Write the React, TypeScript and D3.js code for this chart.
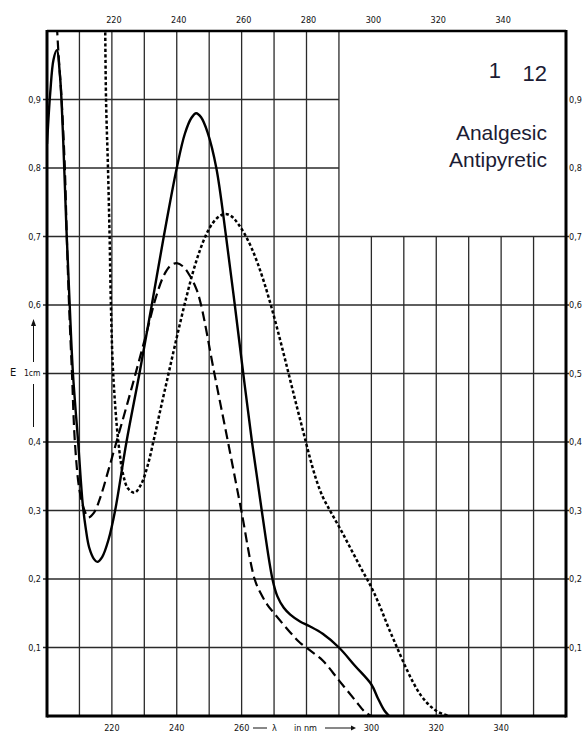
import React from 'react';
import * as d3 from 'd3';

// wavelength (nm), extinction E 1% 1cm
const solidCurve: [number, number][] = [
  [200, 0.835], [201, 0.91], [202, 0.958], [203, 0.972], [204, 0.935], [205, 0.84],
  [206, 0.71], [207, 0.6], [208, 0.5], [209.6, 0.4], [211, 0.31], [212, 0.272],
  [213, 0.246], [214.5, 0.229], [215.5, 0.225], [217, 0.232], [219, 0.258], [221, 0.3],
  [224.5, 0.4], [228.5, 0.5], [232.3, 0.6], [236, 0.7], [240, 0.8], [242.5, 0.85],
  [244.5, 0.873], [246, 0.88], [247.5, 0.874], [249.5, 0.852], [252.2, 0.8], [255.2, 0.7],
  [257.9, 0.6], [260.5, 0.5], [263.2, 0.4], [266.2, 0.3], [269.5, 0.2], [271, 0.175],
  [273, 0.158], [275, 0.148], [278, 0.138], [281, 0.131], [285, 0.12], [290, 0.1],
  [295, 0.073], [300, 0.046], [302, 0.026], [304, 0.008], [305.5, 0.0],
];

const dashedCurve: [number, number][] = [
  [202.8, 1.03], [203.5, 0.97], [204.5, 0.9], [205.5, 0.8], [206.1, 0.7], [206.8, 0.6],
  [207.7, 0.5], [208.6, 0.4], [210, 0.33], [211.5, 0.301], [212.7, 0.29], [214.5, 0.297],
  [216.5, 0.32], [219, 0.36], [222, 0.41], [225, 0.46], [228, 0.512], [231, 0.565],
  [233.5, 0.61], [236, 0.643], [238, 0.657], [240, 0.661], [242, 0.656], [244, 0.643],
  [246, 0.624], [247.5, 0.6], [251.6, 0.5], [255.8, 0.4], [259.9, 0.3], [264, 0.2],
  [266, 0.178], [268, 0.162], [270, 0.15], [275, 0.122], [278, 0.107], [281, 0.096],
  [285, 0.081], [290, 0.052], [295, 0.023], [298, 0.006], [300, 0.0],
];

const dottedCurve: [number, number][] = [
  [217.9, 1.03], [218.2, 0.9], [218.8, 0.8], [219.3, 0.7], [219.7, 0.6], [220.4, 0.5],
  [222, 0.4], [223.5, 0.352], [225, 0.332], [227, 0.326], [229, 0.338], [231, 0.365],
  [233, 0.405], [235, 0.448], [237, 0.49], [239, 0.532], [241, 0.573], [243, 0.612],
  [245, 0.648], [247, 0.678], [249, 0.702], [251, 0.719], [253, 0.729], [255, 0.733],
  [257, 0.729], [259, 0.718], [261, 0.703], [263, 0.684], [265, 0.66], [267, 0.632],
  [269, 0.6], [271, 0.565], [273, 0.528], [275, 0.49], [277, 0.452], [279, 0.415],
  [281, 0.378], [283, 0.345], [285, 0.32], [287, 0.302], [289, 0.285], [291, 0.268],
  [293, 0.25], [295, 0.232], [297, 0.214], [299, 0.197], [301, 0.178], [303, 0.156],
  [305, 0.132], [307, 0.11], [309, 0.088], [311, 0.067], [313, 0.048], [315, 0.032],
  [317, 0.02], [319, 0.011], [321, 0.005], [324, 0.0],
];

const topTicks = [220, 240, 260, 280, 300, 320, 340];
const bottomTicks = [220, 240, 260, 300, 320, 340];
const yTicks = [0.1, 0.2, 0.3, 0.4, 0.5, 0.6, 0.7, 0.8, 0.9];
const leftTicks = [0.1, 0.2, 0.3, 0.4, 0.6, 0.7, 0.8, 0.9]; // 0,5 is taken by the E label
const xGrid = [210, 220, 230, 240, 250, 260, 270, 280, 290, 300, 310, 320, 330, 340, 350];

const W = 587;
const H = 733;
const font = '"Liberation Sans Narrow", "DejaVu Sans Condensed", "Liberation Sans", Arial, sans-serif';

const App = () => {
  const x = d3.scaleLinear().domain([200, 360]).range([47, 566]);
  const y = d3.scaleLinear().domain([0, 1]).range([716, 31]);

  const line = d3
    .line<[number, number]>()
    .x((d) => x(d[0]))
    .y((d) => y(d[1]))
    .curve(d3.curveCatmullRom.alpha(0.5));

  const fmt = (v: number) => v.toFixed(1).replace('.', ',');
  const gridColor = '#2a2a2a';

  return (
    <svg width={W} height={H} style={{ position: 'absolute', left: 0, top: 0, background: '#fff' }}>
      <defs>
        <clipPath id="plot">
          <rect x={x(200)} y={y(1)} width={x(360) - x(200)} height={y(0) - y(1)} />
        </clipPath>
      </defs>
      <rect width={W} height={H} fill="#fff" />

      {/* grid — upper right corner left blank for the label */}
      {xGrid.map((v) => (
        <line key={'v' + v} x1={x(v)} x2={x(v)} y1={v > 290 ? y(0.7) : y(1)} y2={y(0)}
          stroke={gridColor} strokeWidth={1.3} />
      ))}
      {yTicks.map((v) => (
        <line key={'h' + v} x1={x(200) - 4} x2={v > 0.75 ? x(290) : x(360) + 3} y1={y(v)} y2={y(v)}
          stroke={gridColor} strokeWidth={1.3} />
      ))}

      {/* frame */}
      <line x1={x(200)} x2={x(200)} y1={y(1) - 1} y2={y(0) + 1.5} stroke="#000" strokeWidth={3} />
      <line x1={x(360)} x2={x(360)} y1={y(1) - 1} y2={y(0) + 1.5} stroke="#000" strokeWidth={3} />
      <line x1={x(200)} x2={x(360)} y1={y(1)} y2={y(1)} stroke="#000" strokeWidth={2.5} />
      <line x1={x(200)} x2={x(360)} y1={y(0)} y2={y(0)} stroke="#000" strokeWidth={3} />

      {/* curves */}
      <g clipPath="url(#plot)" fill="none" stroke="#000" strokeLinejoin="round">
        <path d={line(solidCurve) ?? ''} strokeWidth={2.4} />
        <path d={line(dashedCurve) ?? ''} strokeWidth={2.2} strokeDasharray="10 5" />
        <path d={line(dottedCurve) ?? ''} strokeWidth={2.5} strokeDasharray="3.2 2.3" />
      </g>

      {/* tick labels */}
      <g fontFamily={font} fontSize={9} fill="#111">
        {topTicks.map((v) => (
          <text key={'t' + v} x={x(v) + 2} y={23} textAnchor="middle">{v}</text>
        ))}
        {bottomTicks.map((v) => (
          <text key={'b' + v} x={x(v)} y={731} textAnchor="middle">{v}</text>
        ))}
        {leftTicks.map((v) => (
          <text key={'l' + v} x={41} y={y(v) + 3} textAnchor="end">{fmt(v)}</text>
        ))}
        {yTicks.map((v) => (
          <text key={'r' + v} x={569} y={y(v) + 3}>{fmt(v)}</text>
        ))}
      </g>

      {/* x axis title between 260 and 300 */}
      <g fontFamily={font} fontSize={9} fill="#111" stroke="#111">
        <line x1={253} x2={267} y1={728} y2={728} strokeWidth={1} />
        <text x={272} y={731} stroke="none">λ</text>
        <text x={294} y={731} stroke="none">in nm</text>
        <line x1={325} x2={351} y1={728} y2={728} strokeWidth={1} />
        <path d="M351,725.5 L356,728 L351,730.5 Z" stroke="none" />
      </g>

      {/* y axis title */}
      <g fontFamily={font} fill="#111" stroke="#111">
        <text x={10} y={376} fontSize={11} stroke="none">E</text>
        <text x={24} y={376} fontSize={8.5} stroke="none">1cm</text>
        <line x1={33.5} x2={33.5} y1={384} y2={427} strokeWidth={1} />
        <line x1={33.5} x2={33.5} y1={324} y2={362} strokeWidth={1} />
        <path d="M31,326 L33.5,319 L36,326 Z" stroke="none" />
      </g>

      {/* label */}
      <g fontFamily='"Liberation Sans", Arial, sans-serif' fill="#1c1c34">
        <text x={501} y={78} fontSize={22} textAnchor="end">1</text>
        <text x={547} y={81} fontSize={22} textAnchor="end">12</text>
        <text x={547} y={140} fontSize={21} textAnchor="end">Analgesic</text>
        <text x={547} y={167} fontSize={21} textAnchor="end">Antipyretic</text>
      </g>
    </svg>
  );
};

export default App;
